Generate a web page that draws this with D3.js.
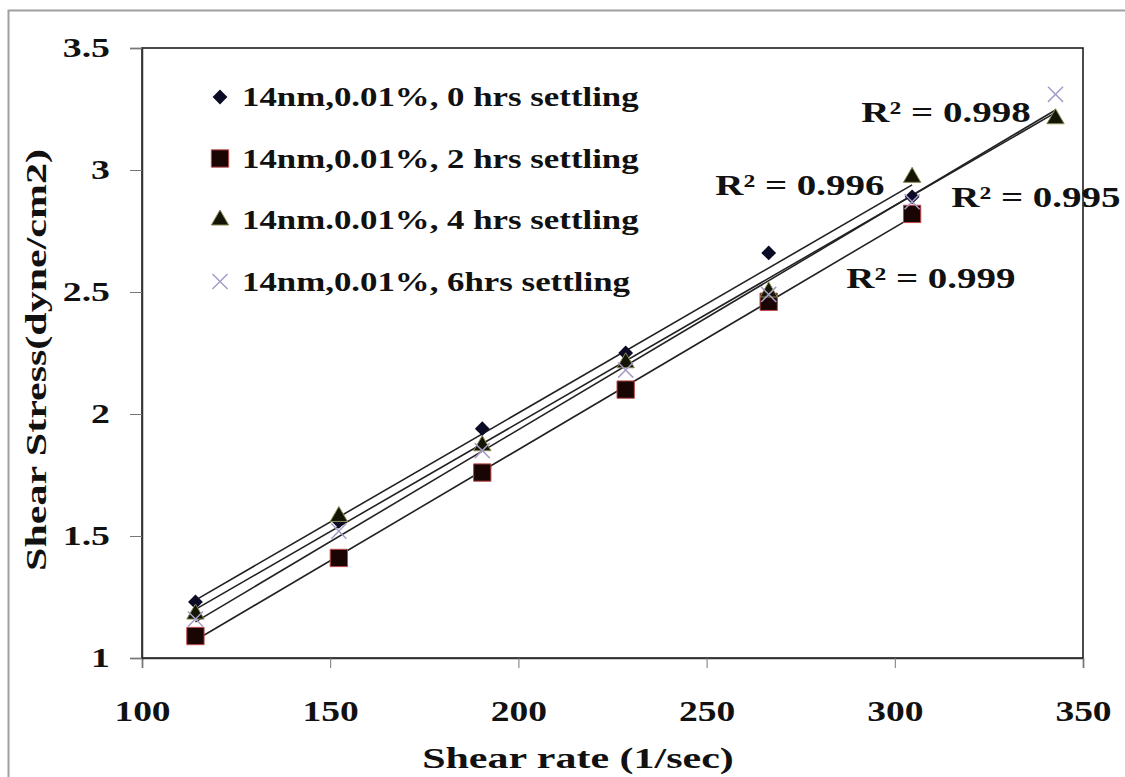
<!DOCTYPE html>
<html>
<head>
<meta charset="utf-8">
<script src="https://cdn.jsdelivr.net/npm/d3@7"></script>
<style>
  body { margin: 0; background: #fff; }
  text { font-family: "Liberation Serif", "Times New Roman", serif; font-weight: bold; fill: #111; }
</style>
</head>
<body>
<div id="wrapper"></div>
<script>
// shear rate values (1/sec)
const shearRate = [114.2, 152.3, 190.4, 228.5, 266.5, 304.6, 342.7]

// shear stress per series (dyne/cm2)
const stress0h = [1.23, 1.56, 1.94, 2.25, 2.66, 2.89]
const stress2h = [1.09, 1.41, 1.76, 2.10, 2.46, 2.82]
const stress4h = [1.18, 1.58, 1.87, 2.21, 2.50, 2.97, 3.21]
const stress6h = [1.16, 1.52, 1.85, 2.18, 2.49, 2.87, 3.31]

const seriesNames = [
  "14nm,0.01%, 0 hrs settling",
  "14nm,0.01%, 2 hrs settling",
  "14nm.0.01%, 4 hrs settling",
  "14nm,0.01%, 6hrs settling",
]

const xTicks = [100, 150, 200, 250, 300, 350]
const yTicks = [1, 1.5, 2, 2.5, 3, 3.5]

// R² annotations (placed in data units)
const r2Labels = ["R² = 0.998", "R² = 0.996", "R² = 0.995", "R² = 0.999"]
const r2X = [313.6, 274.8, 337.5, 309.6]
const r2Y = [3.24, 2.94, 2.89, 2.56]

// the source text is set wide; stretch glyphs horizontally
function stretch(sel, sx) {
  sel.each(function () {
    const t = d3.select(this)
    const x = +t.attr("x") || 0
    t.attr("x", 0).attr("transform", `translate(${x},0) scale(${sx},1)`)
  })
}

function drawChart() {
  const dimensions = {
    width: 1125,
    height: 777,
    margin: { top: 48, right: 42, bottom: 119, left: 142 },
  }
  dimensions.boundedWidth = dimensions.width - dimensions.margin.left - dimensions.margin.right
  dimensions.boundedHeight = dimensions.height - dimensions.margin.top - dimensions.margin.bottom

  const wrapper = d3.select("#wrapper")
    .append("svg")
      .attr("width", dimensions.width)
      .attr("height", dimensions.height)

  // outer chart frame
  wrapper.append("rect")
      .attr("x", 8.5).attr("y", 10.5)
      .attr("width", 1200).attr("height", 900)
      .attr("fill", "none")
      .attr("stroke", "#a0a0a0")
      .attr("stroke-width", 2)

  const bounds = wrapper.append("g")
      .attr("transform", `translate(${dimensions.margin.left},${dimensions.margin.top})`)

  const xScale = d3.scaleLinear()
    .domain([100, 350])
    .range([0, dimensions.boundedWidth])

  const yScale = d3.scaleLinear()
    .domain([1, 3.5])
    .range([dimensions.boundedHeight, 0])

  // plot frame
  bounds.append("rect")
      .attr("width", dimensions.boundedWidth)
      .attr("height", dimensions.boundedHeight)
      .attr("fill", "none")
      .attr("stroke", "#111")
      .attr("stroke-width", 1.5)

  // axes
  const xAxis = bounds.append("g")
      .attr("transform", `translate(0,${dimensions.boundedHeight})`)
      .call(d3.axisBottom(xScale).tickValues(xTicks).tickSize(10).tickPadding(32).tickFormat(d3.format("d")))
  const yAxis = bounds.append("g")
      .call(d3.axisLeft(yScale).tickValues(yTicks).tickSize(12).tickPadding(20).tickFormat(d => d))

  ;[xAxis, yAxis].forEach(ax => {
    ax.select(".domain").attr("stroke", "#333").attr("stroke-width", 1.5)
    ax.selectAll(".tick line").attr("stroke", "#777")
    ax.selectAll(".tick text")
      .attr("fill", "#111")
      .style("font-family", "'Liberation Serif', serif")
      .style("font-weight", "bold")
  })
  xAxis.selectAll(".tick text").style("font-size", "30px").call(stretch, 1.25)
  yAxis.selectAll(".tick text").style("font-size", "28px").call(stretch, 1.35)

  wrapper.append("text")
      .attr("transform", "translate(578,768) scale(1.4,1)")
      .attr("text-anchor", "middle")
      .style("font-size", "30px")
      .text("Shear rate (1/sec)")

  wrapper.append("text")
      .attr("transform", `translate(46,360) rotate(-90) scale(1.4,1)`)
      .attr("text-anchor", "middle")
      .style("font-size", "30px")
      .text("Shear Stress(dyne/cm2)")

  const allSeries = [stress0h, stress2h, stress4h, stress6h]

  // linear trendlines (least squares)
  allSeries.forEach(vals => {
    const xs = shearRate.slice(0, vals.length)
    const mx = d3.mean(xs), my = d3.mean(vals)
    const slope = d3.sum(xs, (x, i) => (x - mx) * (vals[i] - my)) / d3.sum(xs, x => (x - mx) ** 2)
    const icpt = my - slope * mx
    const ends = [xs[0], xs[xs.length - 1]]
    bounds.append("path")
      .attr("d", d3.line().x(d => xScale(d)).y(d => yScale(icpt + slope * d))(ends))
      .attr("stroke", "#222")
      .attr("stroke-width", 1.6)
      .attr("fill", "none")
  })

  // markers
  const symbols = [
    { type: d3.symbolDiamond2, size: 140, fill: "#0b0b26", stroke: "none" },
    { type: d3.symbolSquare, size: 300, fill: "#1a0505", stroke: "#c04848" },
    { type: d3.symbolTriangle, size: 130, fill: "#151505", stroke: "#8a8a55" },
    { type: d3.symbolX, size: 150, fill: "none", stroke: "#a89cc8" },
  ]

  allSeries.forEach((vals, s) => {
    const sym = symbols[s]
    bounds.append("g")
      .selectAll("path")
      .data(vals)
      .join("path")
        .attr("transform", (d, i) => `translate(${xScale(shearRate[i])},${yScale(d)})`)
        .attr("d", d3.symbol(sym.type, sym.size))
        .attr("fill", sym.fill)
        .attr("stroke", sym.stroke)
        .attr("stroke-width", s === 3 ? 1.5 : 1)
  })

  // legend
  const legend = wrapper.append("g")
      .attr("transform", "translate(220,97)")
  seriesNames.forEach((name, s) => {
    const sym = symbols[s]
    const row = legend.append("g").attr("transform", `translate(0,${s * 61.5})`)
    row.append("path")
      .attr("d", d3.symbol(sym.type, sym.size))
      .attr("fill", sym.fill)
      .attr("stroke", sym.stroke)
      .attr("stroke-width", s === 3 ? 1.5 : 1)
    row.append("text")
      .attr("transform", "translate(22,0) scale(1.29,1)")
      .attr("dy", "0.35em")
      .style("font-size", "27px")
      .text(name)
  })

  // R² labels
  bounds.selectAll(".r2")
    .data(r2Labels)
    .join("text")
      .attr("class", "r2")
      .attr("transform", (d, i) => `translate(${xScale(r2X[i])},${yScale(r2Y[i])}) scale(1.3,1)`)
      .attr("text-anchor", "middle")
      .attr("dy", "0.35em")
      .style("font-size", "30px")
      .text(d => d)
}
drawChart()
</script>
</body>
</html>
